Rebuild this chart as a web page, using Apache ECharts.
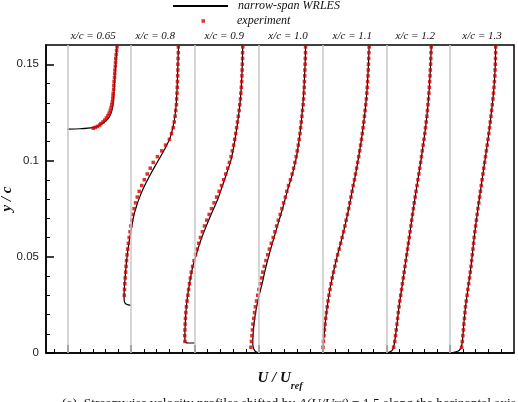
<!DOCTYPE html>
<html>
<head>
<meta charset="utf-8">
<script src="https://cdn.jsdelivr.net/npm/echarts@6/dist/echarts.min.js"></script>
<style>
  html, body { margin: 0; padding: 0; background: #fff; }
  #main { width: 518px; height: 402px; }
</style>
</head>
<body>
<div id="main"></div>
<script>
// stations along the chord, each profile shifted by 1.5 in U/Uref
const stations = ['x/c = 0.65', 'x/c = 0.8', 'x/c = 0.9', 'x/c = 1.0', 'x/c = 1.1', 'x/c = 1.2', 'x/c = 1.3'];
const shift = 1.5;
const stationLabelPos = [0.61, 2.07, 3.69, 5.19, 6.70, 8.18, 9.75];

const majorTicksX = [0, 1.5, 3, 4.5, 6, 7.5, 9];
const minorTicksX = [-0.3, 0.3, 0.6, 0.9, 1.2, 1.8, 2.1, 2.4, 2.7, 3.3, 3.6, 3.9, 4.2, 4.8, 5.1, 5.4, 5.7,
  6.3, 6.6, 6.9, 7.2, 7.8, 8.1, 8.4, 8.7, 9.3, 9.6, 9.9, 10.2];
const majorTicksY = [0, 0.05, 0.1, 0.15];
const minorTicksY = [0.01, 0.02, 0.03, 0.04, 0.06, 0.07, 0.08, 0.09, 0.11, 0.12, 0.13, 0.14];

// experiment: y positions shared by stations 0.8 .. 1.3
const yExp = [0.003, 0.006, 0.009, 0.012, 0.015, 0.018, 0.021, 0.024, 0.027, 0.030,
  0.033, 0.036, 0.039, 0.042, 0.045, 0.048, 0.051, 0.054, 0.057, 0.060,
  0.063, 0.066, 0.069, 0.072, 0.075, 0.078, 0.081, 0.084, 0.087, 0.090,
  0.093, 0.096, 0.099, 0.102, 0.105, 0.108, 0.111, 0.114, 0.117, 0.120,
  0.123, 0.126, 0.129, 0.132, 0.135, 0.138, 0.141, 0.144, 0.147, 0.150,
  0.153, 0.156, 0.159];

const exp065U = [0.61, 0.66, 0.71, 0.76, 0.79, 0.84, 0.88, 0.92, 0.955, 0.985,
  1.01, 1.03, 1.045, 1.06, 1.07, 1.075, 1.08, 1.09, 1.095, 1.10,
  1.11, 1.115, 1.12, 1.13, 1.135, 1.14, 1.15, 1.16, 1.17];
const exp065Y = [0.1168, 0.1172, 0.1177, 0.1184, 0.1192, 0.1200, 0.1210, 0.1221, 0.1233, 0.1246,
  0.126, 0.1275, 0.129, 0.1305, 0.132, 0.1335, 0.135, 0.137, 0.139, 0.141,
  0.143, 0.145, 0.147, 0.149, 0.151, 0.153, 0.155, 0.157, 0.159];

const expU080 = [null, null, null, null, null, null, null, null, null,
  -0.16, -0.155, -0.148, -0.138, -0.128, -0.118, -0.107, -0.095, -0.08, -0.063,
  -0.045, -0.025, -0.005, 0.015, 0.04, 0.07, 0.105, 0.145, 0.19, 0.25,
  0.31, 0.38, 0.45, 0.52, 0.62, 0.72, 0.81, 0.90, 0.95, 0.99,
  1.015, 1.035, 1.05, 1.065, 1.07, 1.08, 1.085, 1.09, 1.095, 1.10,
  1.10, 1.105, 1.11, 1.11];
const expU090 = [null,
  -0.235, -0.24, -0.235, -0.23, -0.222, -0.213, -0.20, -0.185, -0.165, -0.148,
  -0.128, -0.107, -0.085, -0.055, -0.02, 0.015, 0.05, 0.09, 0.13, 0.175,
  0.225, 0.28, 0.335, 0.39, 0.45, 0.51, 0.57, 0.625, 0.675, 0.725,
  0.77, 0.81, 0.85, 0.88, 0.91, 0.935, 0.96, 0.98, 1.0, 1.02,
  1.04, 1.055, 1.07, 1.08, 1.09, 1.10, 1.105, 1.11, 1.115, 1.12,
  1.12, 1.125];
const expU100 = [-0.185, -0.172, -0.16, -0.148, -0.135, -0.118, -0.098, -0.078, -0.052, -0.024,
  0.004, 0.035, 0.065, 0.095, 0.13, 0.17, 0.21, 0.25, 0.295, 0.34,
  0.38, 0.42, 0.46, 0.505, 0.545, 0.585, 0.625, 0.66, 0.70, 0.745,
  0.785, 0.82, 0.85, 0.88, 0.905, 0.93, 0.95, 0.97, 0.985, 1.0,
  1.015, 1.03, 1.045, 1.055, 1.065, 1.07, 1.075, 1.08, 1.085, 1.09,
  1.095, 1.10, 1.10];
const expU110 = [0.01, 0.02, 0.033, 0.045, 0.058, 0.075, 0.092, 0.11, 0.13, 0.15,
  0.175, 0.20, 0.228, 0.258, 0.29, 0.32, 0.355, 0.39, 0.425, 0.46,
  0.495, 0.525, 0.555, 0.585, 0.615, 0.64, 0.668, 0.695, 0.72, 0.75,
  0.775, 0.80, 0.825, 0.85, 0.875, 0.895, 0.915, 0.935, 0.952, 0.97,
  0.985, 1.0, 1.015, 1.03, 1.04, 1.05, 1.06, 1.068, 1.075, 1.08,
  1.085, 1.09, 1.095];
const expU120 = [0.17, 0.198, 0.215, 0.232, 0.248, 0.264, 0.28, 0.297, 0.317, 0.337,
  0.357, 0.377, 0.398, 0.418, 0.438, 0.458, 0.478, 0.498, 0.518, 0.538,
  0.557, 0.577, 0.596, 0.615, 0.635, 0.655, 0.677, 0.698, 0.72, 0.742,
  0.764, 0.785, 0.805, 0.825, 0.845, 0.865, 0.885, 0.903, 0.92, 0.936,
  0.952, 0.966, 0.978, 0.99, 1.0, 1.01, 1.018, 1.026, 1.033, 1.04,
  1.045, 1.05, 1.055];
const expU130 = [0.27, 0.285, 0.298, 0.31, 0.322, 0.335, 0.348, 0.36, 0.378, 0.397,
  0.416, 0.435, 0.455, 0.472, 0.49, 0.505, 0.52, 0.535, 0.55, 0.563,
  0.58, 0.598, 0.616, 0.634, 0.652, 0.672, 0.692, 0.71, 0.73, 0.75,
  0.77, 0.79, 0.81, 0.83, 0.85, 0.87, 0.89, 0.908, 0.925, 0.942,
  0.958, 0.975, 0.99, 1.005, 1.018, 1.03, 1.04, 1.05, 1.055, 1.06,
  1.065, 1.068, 1.07];

// narrow-span WRLES profiles, [U/Uref, y/c]
const les065 = [[0, 0.1163], [0.3, 0.1165], [0.6, 0.1171], [0.75, 0.1182], [0.86, 0.1197], [0.95, 0.1215],
  [1.01, 0.1235], [1.05, 0.126], [1.075, 0.129], [1.09, 0.133], [1.105, 0.138], [1.12, 0.144],
  [1.14, 0.150], [1.155, 0.155], [1.17, 0.16]];
const les080 = [[0, 0.0248], [-0.06, 0.025], [-0.13, 0.0256], [-0.16, 0.027], [-0.165, 0.030], [-0.155, 0.035],
  [-0.13, 0.042], [-0.095, 0.050], [-0.045, 0.058], [0.01, 0.065], [0.06, 0.071], [0.13, 0.0765],
  [0.22, 0.082], [0.33, 0.0875], [0.46, 0.093], [0.60, 0.0985], [0.73, 0.1035], [0.84, 0.108],
  [0.92, 0.112], [0.98, 0.117], [1.03, 0.123], [1.06, 0.129], [1.08, 0.137], [1.095, 0.146],
  [1.105, 0.153], [1.115, 0.16]];
const les090 = [[0, 0.0052], [-0.15, 0.0052], [-0.22, 0.0056], [-0.235, 0.0068], [-0.235, 0.010], [-0.225, 0.016],
  [-0.205, 0.023], [-0.17, 0.030], [-0.12, 0.037], [-0.06, 0.044], [0.03, 0.051], [0.13, 0.058],
  [0.25, 0.065], [0.39, 0.0725], [0.53, 0.0795], [0.65, 0.087], [0.75, 0.0935], [0.85, 0.1005],
  [0.92, 0.108], [0.98, 0.116], [1.03, 0.124], [1.07, 0.132], [1.10, 0.142], [1.115, 0.151],
  [1.125, 0.16]];
const les100 = [[0, 0], [-0.08, 0.0008], [-0.13, 0.003], [-0.14, 0.006], [-0.125, 0.012], [-0.095, 0.018],
  [-0.05, 0.024], [0.01, 0.030], [0.08, 0.036], [0.14, 0.042], [0.22, 0.049], [0.32, 0.057],
  [0.44, 0.066], [0.56, 0.075], [0.67, 0.084], [0.78, 0.092], [0.87, 0.100], [0.94, 0.109],
  [0.99, 0.118], [1.03, 0.127], [1.06, 0.136], [1.08, 0.145], [1.095, 0.153], [1.10, 0.16]];
const les110 = [[0, 0], [0.01, 0.003], [0.03, 0.008], [0.06, 0.015], [0.11, 0.024], [0.17, 0.0326],
  [0.25, 0.0413], [0.34, 0.0499], [0.445, 0.0586], [0.54, 0.0673], [0.625, 0.0759], [0.70, 0.0846],
  [0.78, 0.0933], [0.85, 0.102], [0.915, 0.111], [0.97, 0.120], [1.016, 0.129], [1.05, 0.138],
  [1.07, 0.146], [1.085, 0.153], [1.095, 0.16]];
const les120 = [[0, 0], [0.06, 0.0003], [0.13, 0.0012], [0.17, 0.003], [0.2, 0.0066], [0.25, 0.015],
  [0.297, 0.024], [0.357, 0.033], [0.418, 0.042], [0.478, 0.051], [0.538, 0.060], [0.596, 0.069],
  [0.655, 0.078], [0.72, 0.087], [0.785, 0.096], [0.845, 0.105], [0.903, 0.114], [0.952, 0.123],
  [0.99, 0.132], [1.018, 0.141], [1.04, 0.150], [1.055, 0.16]];
const les130 = [[0, 0], [0.09, 0.0003], [0.2, 0.0012], [0.26, 0.003], [0.29, 0.0066], [0.32, 0.015],
  [0.36, 0.024], [0.416, 0.033], [0.472, 0.042], [0.52, 0.051], [0.563, 0.060], [0.616, 0.069],
  [0.672, 0.078], [0.73, 0.087], [0.79, 0.096], [0.85, 0.105], [0.908, 0.114], [0.958, 0.123],
  [1.005, 0.132], [1.04, 0.141], [1.06, 0.150], [1.07, 0.16]];

const lesProfiles = [les065, les080, les090, les100, les110, les120, les130];
const expProfiles = [
  exp065U.map((u, k) => [u, exp065Y[k]]),
  expU080, expU090, expU100, expU110, expU120, expU130
].map((p, i) => i === 0 ? p : p.map((u, k) => u === null ? null : [u, yExp[k]]).filter(Boolean));

const serif = '"Liberation Serif", "DejaVu Serif", serif';
const sans = '"Liberation Sans", Arial, sans-serif';

var chartDom = document.getElementById('main');
var myChart = echarts.init(chartDom);

const series = [{
  type: 'line',
  data: [],
  silent: true,
  z: 1,
  markLine: {
    silent: true,
    symbol: ['none', 'none'],
    label: { show: false },
    lineStyle: { color: '#c8c8c8', width: 1.5, type: 'solid' },
    emphasis: { disabled: true },
    data: majorTicksX.map(v => ({ xAxis: v }))
  }
}];

lesProfiles.forEach((p, i) => {
  series.push({
    name: 'narrow-span WRLES',
    type: 'line',
    symbol: 'none',
    smooth: 0.25,
    z: 3,
    lineStyle: { color: '#000', width: 1.2 },
    itemStyle: { color: '#000' },
    data: p.map(d => [d[0] + i * shift, d[1]])
  });
});
expProfiles.forEach((p, i) => {
  series.push({
    name: 'experiment',
    type: 'scatter',
    symbol: 'rect',
    symbolSize: 3.5,
    z: 4,
    itemStyle: { color: '#d40000' },
    data: p.map(d => [d[0] + i * shift, d[1]])
  });
});

const option = {
  animation: false,
  grid: {
    left: 46, right: 4, top: 45, bottom: 49,
    outerBoundsMode: 'none', containLabel: false,
    show: true, borderColor: '#000', borderWidth: 1.5
  },
  legend: [
    {
      data: ['narrow-span WRLES'],
      left: 172, top: 0, padding: 0,
      itemWidth: 55, itemHeight: 12,
      selectedMode: false,
      itemStyle: { opacity: 0 },
      textStyle: { fontFamily: serif, fontStyle: 'italic', fontSize: 12, color: '#111', padding: [0, 0, 0, 5] }
    },
    {
      data: ['experiment'],
      left: 201.5, top: 15, padding: 0,
      icon: 'rect', itemWidth: 3.5, itemHeight: 3.5,
      selectedMode: false,
      textStyle: { fontFamily: serif, fontStyle: 'italic', fontSize: 12, color: '#111', padding: [0, 0, 0, 27] }
    }
  ],
  xAxis: [
    {
      type: 'value', min: -0.5, max: 10.5, position: 'bottom',
      axisLine: { onZero: false, lineStyle: { color: '#000', width: 1.5 } },
      axisTick: { inside: true, length: 8, customValues: majorTicksX, lineStyle: { color: '#000', width: 1.5 } },
      axisLabel: { show: false },
      splitLine: { show: false },
      name: '{m|U / U}{s|ref}',
      nameLocation: 'middle',
      nameGap: 18,
      nameMoveOverlap: false,
      nameTextStyle: {
        rich: {
          m: { fontFamily: serif, fontStyle: 'italic', fontWeight: 'bold', fontSize: 15, color: '#111', lineHeight: 20, verticalAlign: 'top' },
          s: { fontFamily: serif, fontStyle: 'italic', fontWeight: 'bold', fontSize: 10, color: '#111', lineHeight: 20, verticalAlign: 'bottom' }
        }
      }
    },
    {
      type: 'value', min: -0.5, max: 10.5, position: 'bottom',
      axisLine: { show: false, onZero: false },
      axisTick: { inside: true, length: 4, customValues: minorTicksX, lineStyle: { color: '#000', width: 1 } },
      axisLabel: { show: false },
      splitLine: { show: false }
    },
    {
      type: 'value', min: -0.5, max: 10.5, position: 'top',
      axisLine: { show: false, onZero: false },
      axisTick: { show: false },
      splitLine: { show: false },
      axisLabel: {
        customValues: stationLabelPos,
        formatter: v => stations[stationLabelPos.indexOf(v)],
        margin: 3,
        fontFamily: serif, fontStyle: 'italic', fontSize: 11, color: '#111'
      }
    }
  ],
  yAxis: [
    {
      type: 'value', min: 0, max: 0.16, position: 'left',
      axisLine: { show: true, onZero: false, lineStyle: { color: '#000', width: 1.5 } },
      axisTick: { show: true, inside: true, length: 8, customValues: majorTicksY, lineStyle: { color: '#000', width: 1.5 } },
      axisLabel: { customValues: majorTicksY, margin: 7, fontFamily: sans, fontSize: 11.5, color: '#222' },
      splitLine: { show: false },
      name: 'y / c',
      nameLocation: 'middle',
      nameGap: 31,
      nameMoveOverlap: false,
      nameTextStyle: { fontFamily: serif, fontStyle: 'italic', fontWeight: 'bold', fontSize: 15, color: '#111' }
    },
    {
      type: 'value', min: 0, max: 0.16, position: 'left',
      axisLine: { show: false, onZero: false },
      axisTick: { show: true, inside: true, length: 4, customValues: minorTicksY, lineStyle: { color: '#000', width: 1 } },
      axisLabel: { show: false },
      splitLine: { show: false }
    }
  ],
  graphic: [{
    type: 'text',
    left: 62,
    top: 396,
    style: {
      text: '(a)  Streamwise velocity profiles shifted by {i|\u0394(U/U}{s|ref}{i|)} = 1.5 along the horizontal axis',
      font: '13.5px ' + serif,
      fill: '#111',
      rich: {
        i: { fontFamily: serif, fontStyle: 'italic', fontSize: 13.5 },
        s: { fontFamily: serif, fontStyle: 'italic', fontSize: 9 }
      }
    }
  }],
  series: series
};

myChart.setOption(option);
</script>
</body>
</html>
